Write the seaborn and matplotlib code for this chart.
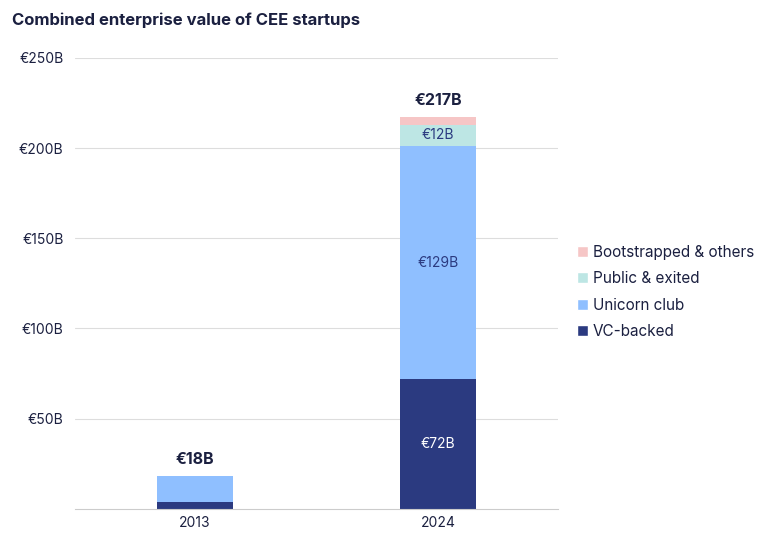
import numpy as np
import pandas as pd
import seaborn as sns
import matplotlib.pyplot as plt
from matplotlib.patches import Patch

years = ["2013", "2024"]
vc_backed = [3.5, 72]
unicorn_club = [14.5, 129]
public_exited = [0, 12]
bootstrapped = [0, 4]
totals = ["€18B", "€217B"]

series = ["VC-backed", "Unicorn club", "Public & exited", "Bootstrapped & others"]
colors = ["#2b3a80", "#8fbfff", "#bde6e4", "#f6c6c6"]

sns.set_style("white")
plt.rcParams["font.family"] = ["Inter", "DejaVu Sans"]

data = pd.DataFrame({
    "year": years,
    "VC-backed": vc_backed,
    "Unicorn club": unicorn_club,
    "Public & exited": public_exited,
    "Bootstrapped & others": bootstrapped,
})
cum = data[series].cumsum(axis=1)

fig = plt.figure(figsize=(7.7, 5.56), dpi=100)
ax = fig.add_axes([0.097, 0.085, 0.628, 0.811])

# stacked look: draw cumulative heights from the top layer down
for name, col in zip(series[::-1], colors[::-1]):
    sns.barplot(x=data["year"], y=cum[name], color=col, width=0.31,
                saturation=1, linewidth=0, edgecolor="none", ax=ax, zorder=2)

navy = "#1b2040"
# segment labels
ax.text(1, 72 / 2, "€72B", ha="center", va="center", color="white", fontsize=10)
ax.text(1, 72 + 129 / 2, "€129B", ha="center", va="center", color="#2b3a80", fontsize=10)
ax.text(1, 201 + 12 / 2, "€12B", ha="center", va="center", color="#2b3a80", fontsize=10)
# totals
for i, t in enumerate(totals):
    ax.text(i, cum.iloc[i, -1] + 5, t, ha="center", va="bottom",
            fontsize=11.5, fontweight="bold", color=navy)

ax.set_ylim(0, 250)
ax.set_xlim(-0.494, 1.494)
ax.set_yticks([50, 100, 150, 200, 250])
ax.set_yticklabels([f"€{v}B" for v in [50, 100, 150, 200, 250]])
ax.yaxis.grid(True, color="#dddddd", linewidth=0.8, zorder=0)
ax.set_axisbelow(True)
ax.set_xlabel("")
ax.set_ylabel("")
for s in ["top", "right", "left"]:
    ax.spines[s].set_visible(False)
ax.spines["bottom"].set_color("#cccccc")
ax.tick_params(axis="both", length=0, labelsize=10, colors=navy)
ax.tick_params(axis="x", pad=5)
ax.tick_params(axis="y", pad=8)

handles = [Patch(facecolor=c, label=n) for n, c in zip(series[::-1], colors[::-1])]
fig.legend(handles=handles, loc="center left", bbox_to_anchor=(0.732, 0.475),
           frameon=False, fontsize=11, handlelength=0.7, handleheight=0.7,
           handletextpad=0.3, labelspacing=0.75, labelcolor=navy)

fig.text(0.015, 0.963, "Combined enterprise value of CEE startups", fontsize=12,
         fontweight="bold", color=navy, va="center")

fig.savefig("out.png", dpi=100)
